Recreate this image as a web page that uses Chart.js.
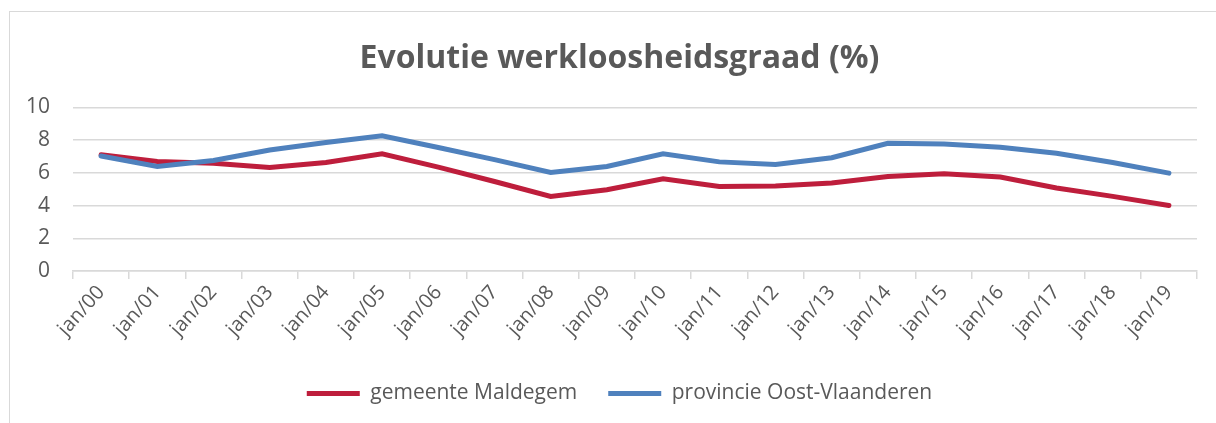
<!DOCTYPE html>
<html>
<head>
<meta charset="utf-8">
<script src="https://cdn.jsdelivr.net/npm/chart.js@4"></script>
<style>
  html, body { margin: 0; padding: 0; overflow: hidden; background: #fff; }
  #frame { position: absolute; left: 9px; top: 11px; width: 1300px; height: 500px; border: 1px solid #d9d9d9; }
  #wrap { position: absolute; left: 0; top: 0; width: 1216px; height: 423px; }
</style>
</head>
<body>
<div id="frame"></div>
<div id="wrap"><canvas id="werkloosChart"></canvas></div>
<script>
const labels = [
  "jan/00", "jan/01", "jan/02", "jan/03", "jan/04", "jan/05", "jan/06",
  "jan/07", "jan/08", "jan/09", "jan/10", "jan/11", "jan/12", "jan/13",
  "jan/14", "jan/15", "jan/16", "jan/17", "jan/18", "jan/19",
];
const maldegem = [7.1, 6.69, 6.59, 6.33, 6.63, 7.16, 6.35, 5.47, 4.56, 4.97, 5.64, 5.17, 5.19, 5.38, 5.78, 5.94, 5.74, 5.07, 4.56, 4.0];
const oostVlaanderen = [7.03, 6.39, 6.75, 7.4, 7.85, 8.27, 7.55, 6.81, 6.02, 6.39, 7.16, 6.67, 6.51, 6.92, 7.81, 7.77, 7.57, 7.2, 6.63, 5.98];
const yTicks = [0, 2, 4, 6, 8, 10];

const grey = "#595959";
const gridGrey = "#d9d9d9";

// titel en legende iets naar rechts, gecentreerd op het kader
const shiftBoxes = {
  id: "shiftBoxes",
  afterLayout(chart) {
    [chart.titleBlock, chart.legend].forEach((box) => {
      if (!box) return;
      box.left += 21;
      box.right += 21;
    });
  },
};

const ctx = document.getElementById("werkloosChart");
new Chart(ctx, {
  type: "line",
  data: {
    labels: labels,
    datasets: [
      {
        label: "gemeente Maldegem",
        data: maldegem,
        borderColor: "#be1e3c",
        backgroundColor: "#be1e3c",
        borderWidth: 5,
        pointRadius: 0,
        tension: 0,
        borderCapStyle: "round",
        order: 1,
      },
      {
        label: "provincie Oost-Vlaanderen",
        data: oostVlaanderen,
        borderColor: "#4f81bd",
        backgroundColor: "#4f81bd",
        borderWidth: 5,
        pointRadius: 0,
        tension: 0,
        borderCapStyle: "round",
        order: 0, // blauw bovenop
      },
    ],
  },
  plugins: [shiftBoxes],
  options: {
    responsive: true,
    maintainAspectRatio: false,
    animation: false,
    layout: { padding: { left: 0, right: 19, top: 0, bottom: 9 } },
    plugins: {
      title: {
        display: true,
        text: "Evolutie werkloosheidsgraad (%)",
        color: grey,
        font: { family: "Open Sans", size: 32, weight: "bold" },
        padding: { top: 40, bottom: 29 },
      },
      legend: {
        position: "bottom",
        labels: {
          color: grey,
          font: { family: "Open Sans", size: 21 },
          usePointStyle: true,
          pointStyle: "line",
          pointStyleWidth: 53,
          padding: 31,
          sort: (a, b) => a.datasetIndex - b.datasetIndex,
        },
      },
      tooltip: { enabled: false },
    },
    scales: {
      x: {
        offset: true,
        grid: { offset: true, drawOnChartArea: false, color: gridGrey, tickLength: 8, lineWidth: 1.5 },
        border: { color: gridGrey, width: 1.5 },
        ticks: {
          color: grey,
          font: { family: "Open Sans", size: 20 },
          maxRotation: 48,
          minRotation: 48,
          autoSkip: false,
          padding: 2,
        },
        afterFit: (scale) => { scale.height = 81; },
      },
      y: {
        min: 0,
        max: 10,
        afterBuildTicks: (scale) => { scale.ticks = yTicks.map((v) => ({ value: v })); },
        grid: { color: gridGrey, lineWidth: 1.5, drawTicks: false },
        border: { display: false },
        ticks: {
          color: grey,
          font: { family: "Open Sans", size: 21 },
          padding: 23,
        },
        afterFit: (scale) => { scale.width = 73; },
      },
    },
  },
});
</script>
</body>
</html>
